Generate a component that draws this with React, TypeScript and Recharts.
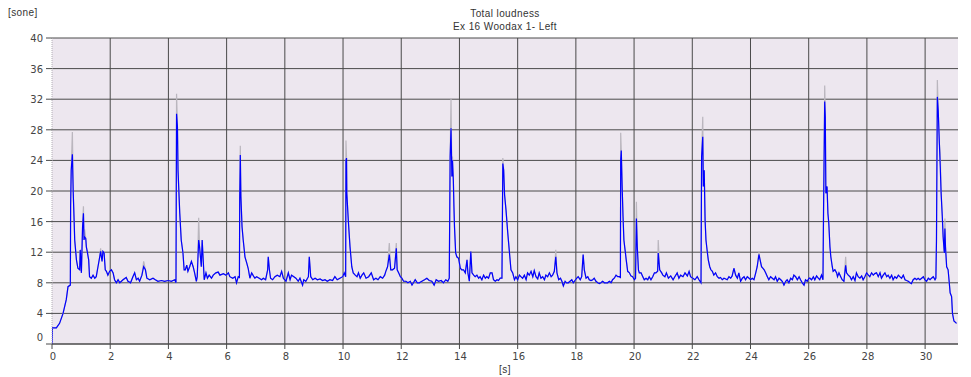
import { CartesianGrid, Line, LineChart, XAxis, YAxis } from "recharts";

// [time in s, loudness in sone]
const loudnessTrace: [number, number][] = [
  [0, 0], [0.01, 2.1], [0.15, 2.1], [0.26, 2.7], [0.38, 4.0], [0.49, 5.8], [0.55, 7.5], [0.63, 7.7],
  [0.64, 18.0], [0.66, 22.7], [0.7, 24.8], [0.73, 19.7], [0.76, 16.2], [0.78, 13.6], [0.84, 11.0],
  [0.89, 9.9], [0.95, 9.7], [0.97, 12.3], [1.01, 9.3], [1.05, 15.3], [1.08, 17.1], [1.1, 13.6],
  [1.12, 14.0], [1.16, 13.8], [1.18, 12.7], [1.21, 12.1], [1.26, 11.0], [1.29, 8.8], [1.35, 8.6],
  [1.41, 9.0], [1.47, 8.6], [1.52, 8.8], [1.58, 10.1], [1.64, 11.4], [1.67, 12.1], [1.72, 10.8],
  [1.75, 12.1], [1.79, 11.9], [1.83, 9.7], [1.87, 9.5], [1.92, 9.0], [1.98, 9.5], [2.04, 9.7],
  [2.1, 9.3], [2.15, 8.4], [2.21, 8.0], [2.27, 8.4], [2.33, 8.0], [2.44, 8.4], [2.55, 8.7], [2.61, 8.2],
  [2.7, 8.0], [2.78, 8.8], [2.84, 9.3], [2.9, 8.4], [2.96, 8.6], [3.01, 8.2], [3.09, 9.0], [3.15, 10.1],
  [3.21, 9.7], [3.26, 8.6], [3.36, 8.4], [3.47, 8.6], [3.55, 8.4], [3.64, 8.2], [3.76, 8.3], [3.87, 8.2],
  [3.99, 8.3], [4.1, 8.2], [4.22, 8.4], [4.26, 8.0], [4.27, 19.7], [4.28, 30.1], [4.31, 28.4],
  [4.33, 22.7], [4.39, 17.1], [4.44, 13.6], [4.5, 11.9], [4.54, 9.7], [4.58, 9.7], [4.63, 10.3],
  [4.67, 9.5], [4.73, 10.1], [4.79, 10.8], [4.85, 10.1], [4.9, 9.3], [4.96, 8.2], [4.99, 8.8],
  [5.04, 13.6], [5.07, 12.7], [5.13, 10.1], [5.16, 13.6], [5.23, 8.4], [5.29, 9.3], [5.34, 8.6],
  [5.4, 9.0], [5.48, 8.6], [5.54, 9.0], [5.63, 9.3], [5.71, 9.4], [5.77, 9.0], [5.89, 9.2], [5.98, 9.0],
  [6.06, 9.3], [6.11, 8.8], [6.21, 8.6], [6.29, 8.8], [6.34, 8.0], [6.4, 8.8], [6.44, 8.7], [6.45, 19.0],
  [6.47, 24.7], [6.49, 19.3], [6.53, 15.3], [6.57, 13.6], [6.63, 11.4], [6.69, 10.6], [6.74, 9.9],
  [6.8, 8.6], [6.86, 9.3], [6.92, 8.9], [6.97, 8.6], [7.03, 8.8], [7.12, 8.6], [7.2, 8.4], [7.26, 8.6],
  [7.34, 8.4], [7.41, 9.7], [7.43, 11.4], [7.47, 9.7], [7.51, 8.6], [7.58, 8.4], [7.66, 8.8], [7.74, 9.0],
  [7.83, 8.8], [7.89, 9.5], [7.95, 8.6], [8.04, 8.2], [8.12, 9.3], [8.18, 8.4], [8.23, 9.0], [8.31, 8.8],
  [8.38, 8.6], [8.46, 8.2], [8.52, 8.6], [8.61, 7.7], [8.65, 8.4], [8.72, 8.2], [8.81, 8.8], [8.84, 11.4],
  [8.89, 8.8], [8.96, 8.4], [9.04, 8.6], [9.12, 8.4], [9.21, 8.5], [9.3, 8.3], [9.38, 8.4], [9.46, 8.2],
  [9.55, 8.4], [9.64, 8.3], [9.72, 8.8], [9.8, 8.4], [9.89, 8.6], [9.99, 8.8], [10.04, 9.3], [10.09, 8.8],
  [10.1, 24.0], [10.12, 24.3], [10.13, 19.7], [10.18, 16.2], [10.24, 12.7], [10.3, 10.1], [10.35, 9.3],
  [10.42, 9.0], [10.48, 8.8], [10.53, 9.3], [10.59, 8.6], [10.65, 9.0], [10.71, 9.3], [10.79, 8.6],
  [10.88, 8.8], [10.97, 9.3], [11.05, 8.4], [11.13, 8.6], [11.2, 8.4], [11.28, 8.8], [11.36, 8.6],
  [11.43, 9.0], [11.47, 9.5], [11.53, 10.1], [11.59, 11.7], [11.64, 9.7], [11.7, 9.7], [11.77, 9.9],
  [11.83, 12.5], [11.86, 9.7], [11.91, 9.3], [11.97, 8.8], [12.02, 8.6], [12.08, 8.2], [12.16, 8.2],
  [12.23, 8.0], [12.31, 8.2], [12.37, 7.7], [12.42, 8.0], [12.48, 8.4], [12.55, 8.0], [12.62, 8.0],
  [12.71, 8.2], [12.8, 8.4], [12.88, 8.6], [12.96, 8.3], [13.05, 8.2], [13.13, 7.7], [13.2, 8.4],
  [13.28, 8.2], [13.37, 8.3], [13.45, 8.0], [13.53, 8.4], [13.6, 8.2], [13.65, 8.6], [13.68, 24.5],
  [13.71, 28.2], [13.74, 21.9], [13.76, 24.0], [13.79, 21.4], [13.81, 18.0], [13.83, 15.3], [13.87, 11.9],
  [13.91, 11.4], [13.97, 11.2], [14.03, 9.9], [14.08, 9.7], [14.14, 9.7], [14.2, 9.3], [14.26, 11.0],
  [14.29, 9.3], [14.34, 8.2], [14.39, 12.1], [14.43, 9.3], [14.49, 9.0], [14.54, 8.8], [14.6, 9.0],
  [14.66, 8.6], [14.71, 8.8], [14.77, 8.4], [14.83, 9.0], [14.89, 8.6], [14.94, 8.8], [15.0, 8.6],
  [15.06, 9.3], [15.12, 9.3], [15.17, 8.4], [15.23, 8.2], [15.29, 8.4], [15.34, 8.3], [15.4, 8.6],
  [15.46, 8.6], [15.49, 23.6], [15.52, 22.7], [15.55, 19.5], [15.6, 17.5], [15.66, 14.5], [15.71, 12.3],
  [15.77, 9.7], [15.83, 9.3], [15.89, 8.4], [15.94, 8.8], [16.0, 8.4], [16.06, 9.0], [16.11, 8.8],
  [16.17, 8.6], [16.23, 9.0], [16.29, 8.4], [16.34, 9.3], [16.4, 9.0], [16.46, 9.5], [16.52, 8.8],
  [16.57, 9.6], [16.63, 8.8], [16.69, 8.5], [16.74, 9.3], [16.8, 8.6], [16.86, 8.8], [16.92, 8.4],
  [16.97, 9.0], [17.03, 8.8], [17.09, 9.3], [17.15, 8.8], [17.2, 9.0], [17.26, 9.5], [17.31, 11.4],
  [17.35, 9.3], [17.41, 8.4], [17.47, 8.6], [17.52, 8.2], [17.57, 7.6], [17.63, 8.2], [17.68, 8.0],
  [17.74, 8.0], [17.8, 8.2], [17.86, 8.4], [17.91, 8.0], [17.97, 8.3], [18.03, 8.6], [18.08, 8.8],
  [18.15, 8.4], [18.2, 8.8], [18.25, 11.7], [18.29, 9.7], [18.35, 8.6], [18.41, 8.8], [18.46, 8.4],
  [18.52, 8.3], [18.58, 8.4], [18.63, 8.6], [18.69, 8.2], [18.75, 8.0], [18.81, 7.9], [18.86, 8.0],
  [18.92, 8.2], [18.98, 8.0], [19.04, 8.0], [19.09, 8.0], [19.15, 8.2], [19.21, 8.0], [19.26, 8.4],
  [19.32, 8.6], [19.38, 9.0], [19.44, 8.8], [19.49, 8.8], [19.53, 8.7], [19.54, 24.0], [19.56, 25.3],
  [19.59, 20.6], [19.62, 16.7], [19.65, 13.6], [19.69, 12.3], [19.73, 11.0], [19.78, 9.5], [19.84, 9.3],
  [19.89, 8.9], [19.95, 8.8], [20.01, 8.4], [20.05, 8.6], [20.08, 16.4], [20.11, 12.7], [20.15, 9.7],
  [20.18, 9.3], [20.24, 9.3], [20.3, 8.8], [20.35, 8.4], [20.41, 8.6], [20.47, 8.4], [20.52, 8.8],
  [20.58, 8.4], [20.64, 8.8], [20.7, 9.3], [20.75, 9.3], [20.81, 9.5], [20.83, 11.9], [20.88, 9.7],
  [20.95, 9.3], [20.99, 9.0], [21.06, 8.8], [21.11, 9.3], [21.18, 8.6], [21.26, 8.9], [21.34, 8.4],
  [21.4, 8.8], [21.48, 9.3], [21.54, 8.6], [21.6, 9.0], [21.68, 8.8], [21.75, 9.3], [21.83, 8.9],
  [21.89, 9.5], [21.94, 8.8], [22.02, 8.6], [22.09, 8.4], [22.17, 8.8], [22.23, 8.4], [22.3, 8.0],
  [22.32, 24.5], [22.36, 27.1], [22.38, 20.6], [22.41, 22.7], [22.44, 16.2], [22.47, 13.6], [22.52, 11.9],
  [22.55, 11.0], [22.6, 10.1], [22.64, 9.7], [22.69, 9.5], [22.74, 9.0], [22.8, 9.3], [22.86, 8.8],
  [22.92, 8.6], [22.97, 8.7], [23.03, 8.4], [23.09, 8.6], [23.15, 8.5], [23.2, 8.4], [23.26, 8.8],
  [23.32, 8.6], [23.37, 8.9], [23.43, 9.9], [23.49, 9.0], [23.55, 8.6], [23.6, 9.3], [23.66, 8.2],
  [23.72, 8.6], [23.78, 8.8], [23.83, 8.4], [23.89, 8.8], [23.95, 8.6], [24.0, 8.4], [24.06, 8.6],
  [24.12, 8.4], [24.18, 9.3], [24.23, 10.1], [24.29, 11.7], [24.33, 11.0], [24.38, 10.1], [24.43, 9.9],
  [24.47, 9.7], [24.52, 9.3], [24.58, 8.8], [24.63, 8.4], [24.69, 8.8], [24.75, 8.6], [24.81, 8.4],
  [24.86, 8.8], [24.92, 8.2], [24.98, 8.6], [25.04, 8.4], [25.09, 8.2], [25.15, 7.7], [25.21, 8.2],
  [25.26, 8.4], [25.32, 8.0], [25.38, 8.6], [25.44, 8.4], [25.49, 9.0], [25.55, 8.8], [25.61, 8.4],
  [25.67, 8.8], [25.72, 8.4], [25.78, 8.0], [25.84, 7.7], [25.89, 8.4], [25.95, 8.2], [26.01, 8.6],
  [26.04, 8.6], [26.1, 8.4], [26.16, 8.8], [26.21, 8.4], [26.27, 8.9], [26.33, 8.6], [26.38, 8.4],
  [26.44, 9.0], [26.49, 8.4], [26.51, 17.3], [26.55, 31.7], [26.57, 29.7], [26.59, 19.7], [26.63, 20.6],
  [26.66, 17.1], [26.69, 15.8], [26.73, 12.7], [26.76, 11.4], [26.81, 10.1], [26.84, 9.5], [26.9, 9.7],
  [26.96, 9.3], [26.99, 8.8], [27.04, 9.3], [27.1, 8.8], [27.15, 8.4], [27.21, 8.2], [27.27, 10.3],
  [27.3, 9.3], [27.36, 9.0], [27.42, 8.8], [27.47, 8.4], [27.53, 8.8], [27.59, 8.3], [27.64, 9.3],
  [27.7, 8.8], [27.76, 8.6], [27.82, 8.9], [27.87, 8.4], [27.93, 8.8], [27.99, 9.3], [28.05, 9.0],
  [28.1, 8.8], [28.16, 9.3], [28.22, 9.0], [28.27, 9.2], [28.33, 9.3], [28.39, 8.8], [28.45, 9.3],
  [28.5, 8.6], [28.56, 9.0], [28.62, 9.3], [28.68, 8.8], [28.73, 9.0], [28.79, 8.6], [28.85, 9.0],
  [28.9, 8.4], [28.96, 8.8], [29.02, 8.6], [29.08, 9.0], [29.13, 8.8], [29.19, 8.6], [29.25, 9.0],
  [29.31, 8.4], [29.36, 8.3], [29.42, 8.2], [29.48, 8.0], [29.53, 7.9], [29.59, 8.4], [29.65, 8.6],
  [29.71, 8.4], [29.76, 8.6], [29.82, 8.4], [29.88, 8.6], [29.94, 8.8], [29.99, 8.4], [30.05, 8.2],
  [30.11, 8.6], [30.17, 8.4], [30.22, 8.6], [30.28, 8.8], [30.34, 8.4], [30.37, 8.6], [30.39, 13.4],
  [30.42, 32.3], [30.45, 30.6], [30.49, 26.2], [30.52, 23.2], [30.55, 19.7], [30.59, 16.7], [30.62, 14.0],
  [30.66, 11.9], [30.68, 15.1], [30.7, 12.7], [30.74, 10.1], [30.79, 9.7], [30.83, 8.0], [30.86, 6.7],
  [30.91, 6.2], [30.94, 4.0], [30.99, 3.0], [31.08, 2.7],
];

// grey trace sits under the blue one and pokes above it at the peaks
const greyPeaks: [number, number][] = [
  [0.7, 27.7], [1.08, 18.0], [1.12, 15.0], [1.67, 12.5], [3.15, 10.8], [4.28, 32.7], [5.04, 16.5],
  [6.47, 25.9], [10.1, 26.6], [11.59, 13.2], [11.83, 13.2], [13.71, 32.1], [13.76, 24.5], [15.49, 24.3],
  [17.31, 12.3], [19.54, 27.6], [20.08, 18.6], [20.83, 13.6], [22.36, 29.7], [24.29, 12.0], [26.55, 33.8],
  [27.27, 11.4], [30.42, 34.5], [30.52, 25.0], [30.68, 16.4],
];

const xTicks = [0, 2, 4, 6, 8, 10, 12, 14, 16, 18, 20, 22, 24, 26, 28, 30];
const yTicks = [0, 4, 8, 12, 16, 20, 24, 28, 32, 36, 40];
const gridX = xTicks.slice(1);

const rows = loudnessTrace.map(([t, v]) => {
  const peak = greyPeaks.find(([pt]) => Math.abs(pt - t) < 0.001);
  return { t, blue: v, grey: peak ? peak[1] : v };
});

const font = "'DejaVu Sans', sans-serif";
const ink = "#444";

const YTick = ({ x, y, payload }: any) => (
  <text x={x - 1} y={payload.value === 0 ? y - 3 : y + 4} textAnchor="end" fontFamily={font} fontSize={10} fill={ink}>
    {payload.value}
  </text>
);

const XTick = ({ x, y, payload }: any) => (
  <text x={x + 1} y={y + 9} textAnchor="middle" fontFamily={font} fontSize={10} fill={ink}>
    {payload.value}
  </text>
);

const labelStyle = {
  position: "absolute" as const,
  zIndex: 2,
  fontFamily: "'Liberation Sans', Arial, sans-serif",
  fontSize: 10,
  letterSpacing: 0.4,
  color: "#333",
  whiteSpace: "nowrap" as const,
  lineHeight: "14px",
};

const centred = { left: 397, width: 200, textAlign: "center" as const };

export default function App() {
  return (
    <div style={{ position: "relative", width: 955, height: 369 }}>
      <LineChart width={955} height={369} data={rows} margin={{ top: 30, right: 5, left: 4, bottom: 13 }}>
        <CartesianGrid
          fill="#ede7ef"
          stroke="#4a4a4a"
          strokeWidth={1}
          verticalValues={gridX}
          horizontalValues={yTicks}
        />
        <XAxis
          dataKey="t"
          type="number"
          domain={[0, 31.13]}
          ticks={xTicks}
          height={20}
          tickSize={5}
          axisLine={{ stroke: "#4a4a4a" }}
          tickLine={{ stroke: "#4a4a4a" }}
          tick={<XTick />}
          allowDataOverflow
        />
        <YAxis
          type="number"
          domain={[0, 40]}
          ticks={yTicks}
          width={40}
          tickSize={6}
          axisLine={{ stroke: "#b0acb4", strokeDasharray: "1 1" }}
          tickLine={{ stroke: "#4a4a4a" }}
          tick={<YTick />}
          allowDataOverflow
        />
        <Line type="linear" dataKey="grey" stroke="#bab6be" strokeWidth={1.2} dot={false} isAnimationActive={false} />
        <Line type="linear" dataKey="blue" stroke="#0000ff" strokeWidth={1.2} dot={false} isAnimationActive={false} />
      </LineChart>
      <div style={{ ...labelStyle, left: 0, top: -2 }}>[sone]</div>
      <div style={{ ...labelStyle, ...centred, top: -1 }}>Total loudness</div>
      <div style={{ ...labelStyle, ...centred, top: 12 }}>Ex 16 Woodax 1- Left</div>
      <div style={{ ...labelStyle, ...centred, top: 355 }}>[s]</div>
    </div>
  );
}
